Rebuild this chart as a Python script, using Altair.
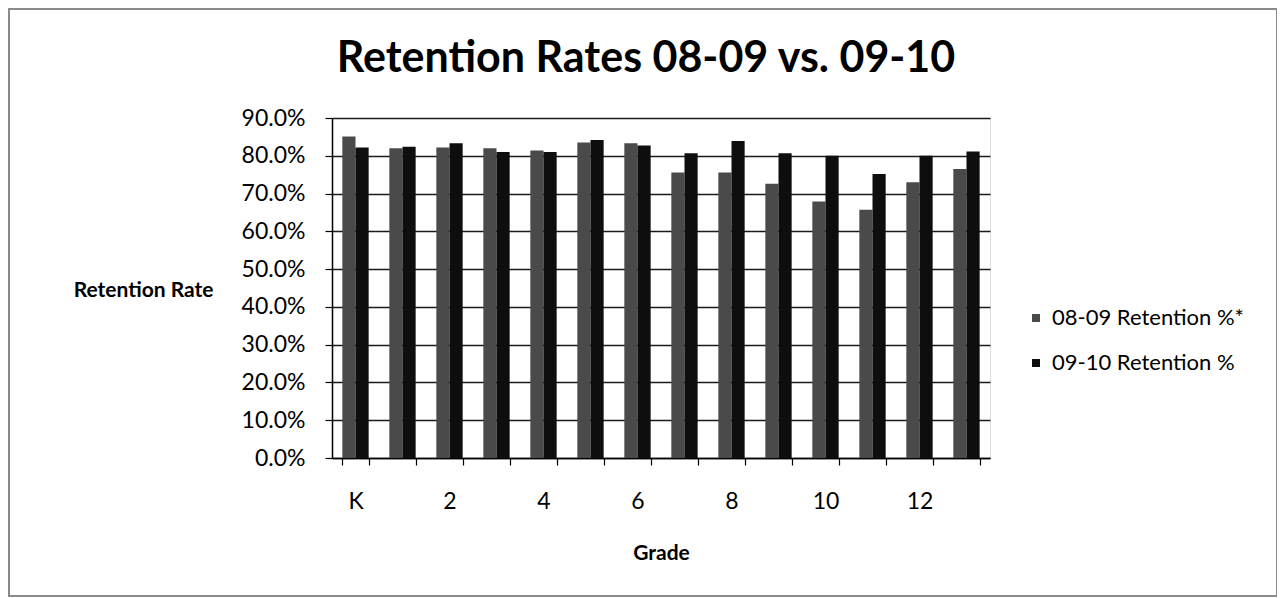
import altair as alt
import pandas as pd

grades = ["K", "1", "2", "3", "4", "5", "6", "7", "8", "9", "10", "11", "12", "Total"]
series_names = ["08-09 Retention %*", "09-10 Retention %"]
rate_0809 = [85.1, 82.0, 82.2, 82.0, 81.4, 83.5, 83.3, 75.6, 75.6, 72.6, 67.9, 65.7, 73.0, 76.5]
rate_0910 = [82.2, 82.4, 83.3, 81.0, 81.0, 84.2, 82.7, 80.7, 83.9, 80.7, 80.0, 75.2, 80.0, 81.1]
shown_labels = ["K", "2", "4", "6", "8", "10", "12"]
colors = ["#4a4a4a", "#0e0e0e"]

rows = []
for g, a, b in zip(grades, rate_0809, rate_0910):
    rows.append({"Grade": g, "Series": series_names[0], "Rate": a / 100})
    rows.append({"Grade": g, "Series": series_names[1], "Rate": b / 100})
df = pd.DataFrame(rows)

FONT = "Lato"
label_list = "[" + ",".join("'" + s + "'" for s in shown_labels) + "]"

bars = alt.Chart(df).mark_bar().encode(
    x=alt.X(
        "Grade:N",
        sort=grades,
        scale=alt.Scale(paddingInner=0.44, paddingOuter=0.22),
        axis=alt.Axis(
            title="Grade",
            titleFont=FONT, titleFontSize=21, titleFontWeight="bold", titleColor="#000",
            titleY=95, titleBaseline="middle",
            labelAngle=0, labelFont=FONT, labelFontSize=23, labelColor="#000",
            labelExpr="indexof(" + label_list + ", datum.value) >= 0 ? datum.label : ''",
            labelOverlap=False, labelBaseline="middle", labelPadding=36,
            tickBand="extent", tickSize=7, tickColor="#000", tickWidth=1.2,
            domainColor="#000", domainWidth=1.5, grid=False,
        ),
    ),
    xOffset=alt.XOffset("Series:N", sort=series_names, scale=alt.Scale(paddingInner=0, paddingOuter=0)),
    y=alt.Y(
        "Rate:Q",
        scale=alt.Scale(domain=[0, 0.9], nice=False),
        axis=alt.Axis(
            title="Retention Rate",
            titleAngle=0, titleAlign="right", titleBaseline="middle",
            titleX=-119, titleY=172,
            titleFont=FONT, titleFontSize=21, titleFontWeight="bold", titleColor="#000",
            values=[0, 0.1, 0.2, 0.3, 0.4, 0.5, 0.6, 0.7, 0.8, 0.9],
            format=".1%", labelFont=FONT, labelFontSize=23, labelColor="#000",
            labelPadding=20, tickSize=7, tickColor="#000", tickWidth=1.2,
            domainColor="#000", domainWidth=1.5,
            grid=True, gridColor="#1a1a1a", gridWidth=1.4,
        ),
    ),
    color=alt.Color(
        "Series:N",
        sort=series_names,
        scale=alt.Scale(domain=series_names, range=colors),
        legend=alt.Legend(
            title=None, orient="none", legendX=693, legendY=189,
            symbolType="square", symbolSize=64, symbolStrokeWidth=0,
            labelFont=FONT, labelFontSize=22, labelColor="#000", labelOffset=5,
            labelLimit=0, rowPadding=23,
        ),
    ),
)

frame = alt.Chart(pd.DataFrame({"Grade": ["K"]})).mark_rect(
    fill=None, stroke="#8a8a8a", strokeWidth=2
).encode(
    x=alt.value(-323), x2=alt.value(945), y=alt.value(-109), y2=alt.value(478)
)

chart = alt.layer(frame, bars).properties(
    width=658,
    height=340,
    padding={"left": 324, "top": 110, "right": 287, "bottom": 140},
    autosize=alt.AutoSizeParams(type="none"),
    title=alt.TitleParams(
        "Retention Rates 08-09 vs. 09-10",
        font=FONT, fontSize=43, fontWeight="bold", color="#000",
        anchor="middle", frame="group", dx=-15, offset=-73,
    ),
).configure_view(stroke=None).configure(background="white")

chart.save("out.html", embed_options={"renderer": "svg", "actions": False})
